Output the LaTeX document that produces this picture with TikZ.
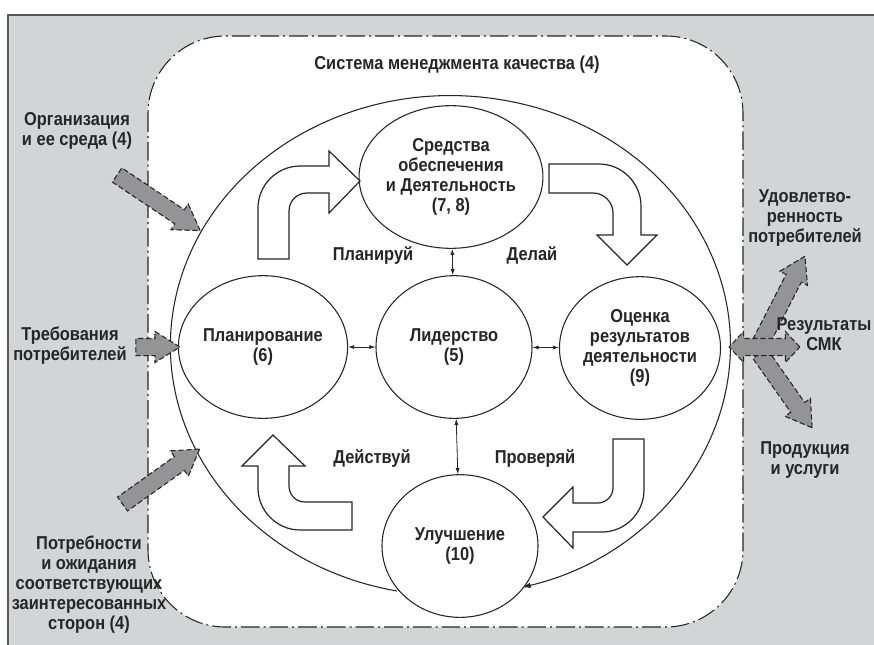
\documentclass[tikz,border=0pt]{standalone}
\usepackage{fontspec}
\setmainfont{Liberation Sans}[FakeStretch=0.88]
\usetikzlibrary{shapes.geometric,shapes.arrows,arrows.meta}

\definecolor{bggray}{RGB}{211,212,214}
\definecolor{arrgray}{RGB}{148,148,150}
\definecolor{inkgray}{RGB}{38,38,38}

\tikzset{
  lbl/.style={align=center, inner sep=0.75pt, text=inkgray, font=\bfseries\fontsize{14}{15}\selectfont},
  unit/.style={lbl, ellipse, draw=inkgray, fill=white, line width=0.8pt, minimum width=117pt, minimum height=107pt, inner sep=0pt},
  pdca/.style={draw=inkgray, fill=white, line width=0.9pt},
  link/.style={{Latex[length=4.5pt,width=3pt]}-{Latex[length=4.5pt,width=3pt]}, draw=inkgray, line width=0.6pt},
  greyarrow/.style={draw=inkgray, fill=arrgray, line width=0.8pt, dash pattern=on 4pt off 2pt, inner xsep=0pt, inner ysep=6pt},
  inarrow/.style={greyarrow, single arrow, single arrow head extend=5.25pt, single arrow tip angle=64},
  resarrow/.style={greyarrow, double arrow, double arrow head extend=5.25pt, double arrow tip angle=94}
}

\begin{document}
\begin{tikzpicture}[x=0.75pt,y=0.75pt,yscale=-1,xscale=1]
\useasboundingbox (0,0) rectangle (874,644);

%Shape: Rectangle [background]
\draw [draw=gray!70!black, fill=bggray, line width=0.8pt] (8,15) rectangle (890,660);
%Shape: Rounded Rectangle [QMS]
\draw [draw=inkgray, fill=white, line width=0.8pt, rounded corners=58pt, dash pattern=on 14pt off 3pt on 1.5pt off 3pt] (148,36) rectangle (743,627);

%Curve Lines [loop]
\coordinate (loopstart) at (397,591);
\draw [draw=inkgray, line width=0.8pt, -{Latex[length=7pt,width=4pt]}] (loopstart) arc [start angle=101, end angle=435.3, x radius=280, y radius=250];

%Shape: Ellipse
\node [unit] (res) at (451,177) {Средства\\обеспечения\\и Деятельность\\(7, 8)};
\node [unit] (plan) at (263,347) {Планирование\\(6)};
\node [unit] (lead) at (454,347) {Лидерство\\(5)};
\node [unit] (eval) at (640,348) {Оценка\\результатов\\деятельности\\(9)};
\node [unit] (impr) at (460,546) {Улучшение\\(10)};

%Straight Lines
\draw [link] (res) -- (lead);
\draw [link] (plan) -- (lead);
\draw [link] (lead) -- (eval);
\draw [link] (lead) -- (impr);

%Shape: Block Arc [Планируй]
\draw [pdca] (258,259) -- (258,208) .. controls (258,185) and (277,166) .. (300,166) -- (329,166) -- (329,151) -- (360,181) -- (329,213) -- (329,193) -- (307,193) .. controls (297,193) and (289,201) .. (289,211) -- (289,259) -- cycle;
%Shape: Block Arc [Делай]
\draw [pdca] (549,164) -- (599,164) .. controls (622,164) and (641,183) .. (641,206) -- (641,235) -- (657,235) -- (627,265) -- (597,235) -- (613,235) -- (613,213) .. controls (613,202) and (604,193) .. (593,193) -- (549,193) -- cycle;
%Shape: Block Arc [Проверяй]
\draw [pdca] (613,439) -- (644,439) -- (644,490) .. controls (644,513) and (625,532) .. (602,532) -- (573,532) -- (573,548) -- (543,517) -- (573,487) -- (573,503) -- (598,503) .. controls (606,503) and (613,496) .. (613,488) -- cycle;
%Shape: Block Arc [Действуй]
\draw [pdca] (352,502) -- (352,530) -- (300,530) .. controls (277,530) and (258,511) .. (258,488) -- (258,466) -- (242,466) -- (273,435) -- (305,466) -- (289,466) -- (289,486) .. controls (289,495) and (296,502) .. (305,502) -- cycle;

%Shape: Right Arrow [inputs]
\node [inarrow, minimum height=75pt, rotate=-33.8] (envarrow) at (153,199) {};
\node [inarrow, minimum height=33pt] (reqarrow) at (151,347) {};
\node [inarrow, minimum height=71pt, rotate=35.5] (needarrow) at (155.5,480.5) {};
%Shape: Right Arrow [outputs]
\node [inarrow, minimum height=72pt, rotate=62.9] (satarrow) at (780,305) {};
\node [inarrow, minimum height=68pt, rotate=-54.9] (prodarrow) at (782,385) {};
\node [resarrow, minimum height=53pt] (resarrow) at (764.5,347) {};

% Text Node
\node [lbl] (qms) at (457,65) {Система менеджмента качества (4)};
% Text Node
\node [lbl] (plantxt) at (373,255) {Планируй};
\node [lbl] (dotxt) at (532,255) {Делай};
\node [lbl] (acttxt) at (372,458) {Действуй};
\node [lbl] (checktxt) at (535,458) {Проверяй};
% Text Node
\node [lbl] (envtxt) at (77,131) {Организация\\и ее среда (4)};
\node [lbl] (reqtxt) at (70,346) {Требования\\потребителей};
\node [lbl] (needtxt) at (89,585) {Потребности\\и ожидания\\соответствующих\\заинтересованных\\сторон (4)};
% Text Node
\node [lbl] (sattxt) at (805,218) {Удовлетво-\\ренность\\потребителей};
\node [lbl] (restxt) at (824,334) {Результаты\\СМК};
\node [lbl] (prodtxt) at (805,460) {Продукция\\и услуги};

\end{tikzpicture}
\end{document}
